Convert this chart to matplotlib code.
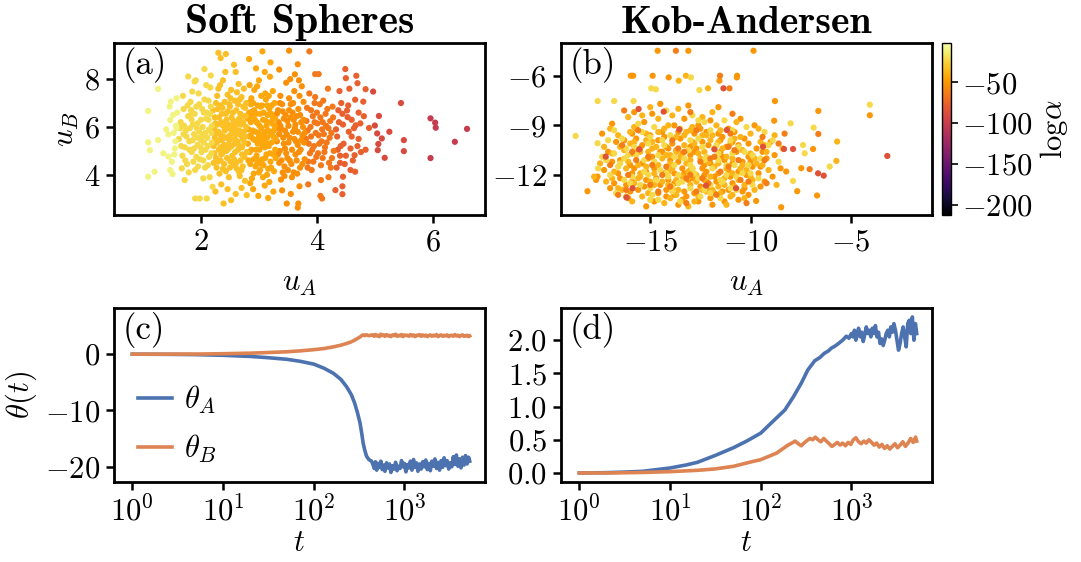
import matplotlib
matplotlib.use('Agg')
import matplotlib.pyplot as plt
import numpy as np
from matplotlib.ticker import NullLocator, FixedLocator

plt.rcParams['mathtext.fontset'] = 'cm'
plt.rcParams['font.family'] = 'serif'
plt.rcParams['font.serif'] = ['cmr10']
plt.rcParams['axes.formatter.use_mathtext'] = True
plt.rcParams['axes.unicode_minus'] = True

# ---------------- data ----------------
# Panel (a): Soft Spheres, points grouped by log(alpha) level
a_logalpha = [-10, -22, -33, -43, -53, -65, -77, -90, -102]
a_g1 = [(1.09,6.67),(1.09,5.36),(1.09,3.92),(1.26,7.59),(1.12,5.03),(1.20,4.13),(1.26,5.45),(1.48,7.06),(1.47,6.29),(1.47,4.20),
        (1.51,4.03),(1.44,4.76),(1.44,5.69),(1.52,6.50),(1.55,5.10),(1.40,5.90),(1.57,6.05),(1.50,4.55),(1.35,4.90),(1.58,7.20),
        (1.53,5.75),(1.46,6.85),(1.56,5.40),(1.59,6.60),(1.54,4.85),(1.58,5.95)]
a_g2 = [(1.67,4.27),(1.72,3.78),(1.78,8.11),(1.85,7.48),(1.89,7.90),(2.06,8.42),(2.17,8.15),(1.90,3.01),(1.98,3.01),(2.10,3.01),
        (1.62,5.50),(1.65,6.20),(1.68,4.80),(1.70,6.75),(1.72,5.15),(1.74,5.85),(1.76,4.45),(1.78,6.45),(1.80,5.40),(1.82,7.05),
        (1.84,4.95),(1.86,6.10),(1.88,5.70),(1.90,4.20),(1.92,6.85),(1.94,5.25),(1.96,7.40),(1.98,4.65),(2.00,6.30),(2.02,5.60),
        (2.04,3.85),(2.06,7.15),(2.08,5.05),(2.10,6.60),(2.12,4.40),(2.14,5.90),(2.16,7.65),(2.18,4.90),(2.19,6.05),(2.20,3.50),
        (1.64,5.95),(1.75,5.60),(1.83,6.70),(1.87,4.55),(1.93,5.95),(1.97,6.95),(2.01,4.95),(2.05,5.35),(2.09,7.75),(2.13,6.30),
        (2.15,3.90),(1.79,4.10),(1.69,7.30),(1.91,7.95),(2.03,6.00),(1.81,5.95),(1.95,5.55),(2.07,4.30),(2.11,5.55),(2.17,6.85),
        (1.66,5.20),(1.71,6.05),(1.73,4.60),(1.77,6.90),(1.80,5.05),(1.84,6.30),(1.86,5.45),(1.89,6.55),(1.92,4.75),(1.94,6.15),
        (1.97,5.80),(1.99,5.15),(2.02,6.75),(2.04,4.60),(2.07,5.75),(2.09,6.35),(2.12,5.20),(2.14,4.75),(2.16,6.55),(2.19,5.35),
        (1.70,5.70),(1.88,5.10),(2.00,5.45),(2.13,7.10),(1.95,4.35),(1.82,6.50),(2.18,5.75),(2.05,6.60)]
a_g3 = [(2.30,9.10),(2.43,9.05),(2.34,8.88),(2.39,2.80),(2.52,2.94),(2.79,3.15),(2.25,3.30),(2.60,3.20),(2.70,3.45),(2.35,3.60),
        (2.22,5.20),(2.24,6.40),(2.26,4.70),(2.28,7.30),(2.30,5.80),(2.32,4.05),(2.34,6.90),(2.36,5.45),(2.38,7.95),(2.40,4.45),
        (2.42,6.15),(2.44,5.00),(2.46,6.65),(2.48,3.90),(2.50,5.65),(2.52,7.55),(2.54,4.80),(2.56,6.25),(2.58,5.30),(2.60,8.30),
        (2.62,4.25),(2.64,6.95),(2.66,5.85),(2.68,4.60),(2.70,7.25),(2.72,5.50),(2.74,6.45),(2.76,3.75),(2.78,6.00),(2.23,5.90),
        (2.27,4.30),(2.29,6.75),(2.31,5.05),(2.33,7.75),(2.35,6.20),(2.37,4.90),(2.39,5.60),(2.41,7.05),(2.43,4.15),(2.45,5.95),
        (2.47,5.25),(2.49,6.95),(2.51,4.55),(2.53,6.40),(2.55,5.75),(2.57,8.60),(2.59,4.95),(2.61,6.70),(2.63,5.40),(2.65,7.80),
        (2.67,3.95),(2.69,6.10),(2.71,5.15),(2.73,6.85),(2.75,4.75),(2.77,5.60),(2.24,5.55),(2.28,6.10),(2.32,5.45),(2.36,6.55),
        (2.40,5.25),(2.44,6.30),(2.48,5.10),(2.52,5.90),(2.56,4.40),(2.60,6.05),(2.64,5.05),(2.68,6.55),(2.72,4.35),(2.76,6.80),
        (2.26,7.00),(2.34,4.60),(2.42,8.30),(2.50,6.85),(2.58,7.10),(2.66,4.10),(2.74,7.60),(2.46,3.40),(2.62,5.70),(2.38,6.05),
        (2.21,6.70),(2.23,4.90),(2.25,6.15),(2.27,5.35),(2.29,4.55),(2.31,6.40),(2.33,5.70),(2.35,4.85),(2.37,6.80),(2.39,5.05),
        (2.41,5.85),(2.43,6.55),(2.45,4.70),(2.47,6.10),(2.49,5.45),(2.51,7.20),(2.53,5.20),(2.55,6.60),(2.57,4.65),(2.59,5.95),
        (2.61,4.50),(2.63,6.25),(2.65,5.25),(2.67,7.15),(2.69,5.65),(2.71,4.85),(2.73,6.20),(2.75,5.35),(2.77,6.45),(2.79,4.95),
        (2.22,4.50),(2.30,7.60),(2.38,4.25),(2.46,7.35),(2.54,6.05),(2.62,7.45),(2.70,4.20),(2.78,7.00),(2.26,5.75),(2.44,5.55),
        (2.58,5.50),(2.66,6.35),(2.34,5.15),(2.50,4.30),(2.74,5.80)]
a_g4 = [(2.83,8.84),(3.06,9.16),(2.99,3.12),(3.16,3.03),(2.90,3.40),(3.10,3.55),(3.25,3.30),(2.85,3.65),(3.20,8.70),(2.95,8.45),
        (2.81,5.30),(2.83,6.60),(2.85,4.45),(2.87,7.20),(2.89,5.85),(2.91,4.05),(2.93,6.30),(2.95,5.05),(2.97,7.70),(2.99,4.60),
        (3.01,6.05),(3.03,5.45),(3.05,6.90),(3.07,3.90),(3.09,5.75),(3.11,7.40),(3.13,4.85),(3.15,6.50),(3.17,5.20),(3.19,8.10),
        (3.21,4.30),(3.23,6.15),(3.25,5.60),(3.27,7.00),(3.29,4.70),(2.82,5.90),(2.84,4.95),(2.86,6.95),(2.88,3.85),(2.90,5.50),
        (2.92,7.55),(2.94,4.35),(2.96,6.20),(2.98,5.30),(3.00,7.95),(3.02,4.20),(3.04,5.95),(3.06,4.65),(3.08,6.60),(3.10,5.15),
        (3.12,7.15),(3.14,4.00),(3.16,5.85),(3.18,6.75),(3.20,4.55),(3.22,5.35),(3.24,7.50),(3.26,4.15),(3.28,6.35),(2.86,5.65),
        (2.94,5.80),(3.02,6.55),(3.08,4.40),(3.14,5.55),(3.22,6.90),(3.28,5.05),(2.88,6.45),(2.96,4.80),(3.04,7.30),(3.12,6.25),
        (3.18,3.70),(3.26,5.85),(2.92,6.70),(3.00,5.60),(3.10,8.30),(3.20,5.70),(2.84,7.75),(3.16,4.25),(3.06,5.25),(2.98,6.15),
        (2.81,6.35),(2.83,5.60),(2.85,7.05),(2.87,5.05),(2.89,6.65),(2.91,4.65),(2.93,5.45),(2.95,6.55),(2.97,4.45),(2.99,5.75),
        (3.01,5.05),(3.03,6.85),(3.05,4.45),(3.07,6.30),(3.09,5.45),(3.11,4.70),(3.13,6.05),(3.15,5.30),(3.17,7.30),(3.19,4.90),
        (3.21,6.55),(3.23,5.80),(3.25,4.85),(3.27,6.05),(3.29,5.50),(2.82,4.60),(2.90,7.00),(2.98,6.90),(3.06,5.60),(3.14,6.90),
        (3.24,6.40),(2.86,6.20),(3.00,4.10),(3.12,5.80),(3.20,6.20)]
a_g5 = [(3.52,9.19),(3.67,8.62),(3.68,2.80),(3.67,2.63),(3.48,2.80),(3.70,3.52),(3.40,3.35),(3.55,3.20),(3.35,8.40),(3.62,8.20),
        (3.31,5.40),(3.33,6.70),(3.35,4.50),(3.37,7.30),(3.39,5.90),(3.41,4.10),(3.43,6.35),(3.45,5.10),(3.47,7.85),(3.49,4.70),
        (3.51,6.05),(3.53,5.55),(3.55,6.95),(3.57,3.90),(3.59,5.80),(3.61,7.50),(3.63,4.85),(3.65,6.45),(3.67,5.25),(3.69,7.95),
        (3.71,4.30),(3.73,6.20),(3.75,5.65),(3.77,7.05),(3.79,4.65),(3.32,5.95),(3.36,5.00),(3.40,6.95),(3.44,4.35),(3.48,5.70),
        (3.52,7.20),(3.56,4.45),(3.60,6.30),(3.64,5.40),(3.68,6.75),(3.72,5.05),(3.76,6.00),(3.34,6.20),(3.42,5.55),(3.50,4.20),
        (3.58,6.60),(3.66,4.05),(3.74,7.70),(3.46,6.50),(3.62,5.95),(3.38,3.80),(3.54,8.00),(3.78,5.35),
        (3.31,6.55),(3.33,4.85),(3.35,5.70),(3.37,6.05),(3.39,4.60),(3.41,6.65),(3.43,5.30),(3.45,5.85),(3.47,4.90),(3.49,6.25),
        (3.51,5.35),(3.53,4.60),(3.55,6.40),(3.57,5.05),(3.59,7.00),(3.61,5.50),(3.63,6.10),(3.65,4.60),(3.67,5.80),(3.69,4.95),
        (3.71,6.50),(3.73,5.45),(3.75,4.45),(3.77,6.30),(3.79,5.75),(3.36,7.00),(3.44,3.95),(3.60,4.10),(3.70,7.30),(3.52,6.70)]
a_g6 = [(4.03,8.21),(3.97,8.21),(3.87,9.16),(4.07,3.78),(4.09,3.01),(4.06,3.12),(3.85,3.60),(4.20,3.90),
        (3.81,5.50),(3.83,6.80),(3.85,4.55),(3.87,7.40),(3.89,6.00),(3.91,4.20),(3.93,6.45),(3.95,5.20),(3.97,7.25),(3.99,4.75),
        (4.01,6.15),(4.03,5.65),(4.05,6.95),(4.07,4.40),(4.09,5.90),(4.11,7.10),(4.13,4.95),(4.15,6.55),(4.17,5.35),(4.19,7.60),
        (4.21,4.50),(4.23,6.25),(4.25,5.75),(4.27,6.85),(4.29,5.00),(3.84,5.85),(3.92,5.05),(4.00,6.60),(4.08,5.40),(4.16,6.05),
        (4.24,4.30),(3.88,4.90),(3.96,6.20),(4.12,5.70),(4.28,6.40),
        (3.82,6.25),(3.86,5.30),(3.90,6.70),(3.94,4.55),(3.98,5.75),(4.02,4.90),(4.06,6.40),(4.10,4.70),(4.14,5.15),(4.18,6.75),
        (4.22,5.55),(4.26,4.70),(3.84,4.30),(3.96,7.00),(4.04,5.30),(4.20,5.95),(3.90,5.60),(4.10,6.20)]
a_g7 = [(4.49,8.42),(4.50,8.04),(4.52,6.69),(4.53,6.41),(4.67,6.07),(4.65,4.82),(4.66,4.13),(4.45,3.92),(4.44,3.52),(4.44,3.19),
        (4.32,3.36),(4.68,8.14),(4.70,7.83),(4.66,7.14),(4.84,5.05),(4.84,7.58),(4.80,7.06),(4.81,6.45),(4.90,5.96),
        (4.35,5.60),(4.38,6.20),(4.40,4.80),(4.42,7.00),(4.46,5.30),(4.48,4.45),(4.55,5.80),(4.58,5.10),(4.60,6.30),(4.62,4.60),
        (4.72,5.50),(4.75,6.15),(4.34,4.30),(4.39,7.50),(4.56,7.60),(4.70,5.20),(4.76,4.95),(4.44,6.55),(4.58,4.20),(4.36,5.05),
        (4.33,5.90),(4.37,6.70),(4.41,5.20),(4.45,6.10),(4.50,4.80),(4.54,6.90),(4.60,5.60),(4.64,5.95),(4.72,6.60),(4.40,4.50)]
a_g8 = [(4.97,7.48),(5.00,6.06),(5.07,6.46),(5.04,5.73),(5.06,5.29),(5.05,5.03),(5.12,5.52),(5.25,5.80),(5.17,4.71),(5.45,7.00),
        (5.50,5.45),(5.50,4.99)]
a_g9 = [(5.96,6.36),(6.04,6.18),(6.05,5.97),(5.96,4.70),(6.38,5.38),(6.59,5.92)]
a_groups = [a_g9, a_g8, a_g7, a_g6, a_g5, a_g4, a_g3, a_g2, a_g1]
a_group_levels = [a_logalpha[8], a_logalpha[7], a_logalpha[6], a_logalpha[5], a_logalpha[4],
                  a_logalpha[3], a_logalpha[2], a_logalpha[1], a_logalpha[0]]

# Panel (b): Kob-Andersen, points grouped by log(alpha) level
b_logalpha = [-50, -38, -22, -62, -85]
b_orange = [(-18.13,-12.98),(-14.63,-4.49),(-13.10,-4.49),(-9.85,-4.49),(-15.97,-6.0),(-15.85,-6.0),(-14.88,-6.0),(-14.08,-6.1),
            (-11.55,-6.3),(-10.67,-6.0),(-10.68,-6.1),(-8.78,-7.53),(-4.05,-8.39),(-6.62,-8.13),(-6.68,-13.24),(-6.88,-10.43),
            (-7.47,-11.59),(-7.67,-12.98),(-8.47,-13.95),(-8.22,-11.79),(-8.82,-8.72),(-9.72,-13.57),(-17.63,-12.10),
            (-14.5,-7.7),(-13.1,-7.8),(-11.6,-7.9),(-15.8,-8.2),(-14.9,-8.3),(-13.3,-8.6),(-12.0,-8.7),(-10.5,-8.6),(-16.9,-8.9),
            (-15.3,-8.8),(-13.8,-9.0),(-12.5,-9.2),(-11.1,-9.2),(-9.8,-9.0),(-17.4,-9.5),(-15.9,-9.5),(-14.4,-9.4),(-12.8,-9.5),
            (-11.4,-9.7),(-10.3,-9.8),(-9.0,-10.0),(-16.7,-10.0),(-15.4,-10.2),(-13.9,-10.1),(-12.4,-10.0),(-11.2,-10.3),(-9.7,-10.4),
            (-17.1,-10.6),(-15.9,-10.7),(-14.4,-10.6),(-13.0,-10.8),(-11.5,-10.6),(-10.1,-10.9),(-8.8,-10.8),(-16.5,-11.1),(-15.1,-11.0),
            (-13.6,-11.2),(-12.3,-11.4),(-10.9,-11.3),(-9.5,-11.5),(-17.3,-11.7),(-15.8,-11.6),(-14.3,-11.9),(-13.0,-11.7),(-11.6,-11.9),
            (-10.2,-12.0),(-8.9,-12.1),(-16.5,-12.2),(-15.2,-12.3),(-13.8,-12.5),(-12.3,-12.3),(-10.9,-12.5),(-9.5,-12.7),(-17.0,-12.8),
            (-15.6,-12.9),(-14.2,-12.9),(-12.8,-13.1),(-11.4,-13.0),(-10.1,-13.2),(-16.1,-13.4),(-14.8,-13.6),(-13.4,-13.5),(-12.0,-13.4),
            (-10.6,-13.5),(-15.2,-13.9),(-13.6,-13.8),(-11.9,-13.8),(-14.1,-10.4),(-12.7,-10.4),(-13.4,-11.6),(-11.8,-12.1),(-14.7,-12.2),
            (-12.1,-12.8),(-14.0,-11.1),(-10.6,-10.2),(-16.0,-11.4),(-12.9,-12.2),(-15.5,-10.4),(-11.1,-11.7),(-13.3,-13.0),(-16.8,-12.5),
            (-9.3,-12.4),(-12.6,-9.0),(-14.2,-13.3),(-10.4,-11.2),(-15.7,-9.8),(-13.7,-10.5),(-8.5,-11.6),(-17.7,-12.3),(-14.6,-9.9),
            (-12.2,-11.8),(-11.3,-13.6),
            (-16.3,-9.9),(-15.6,-10.5),(-14.9,-10.9),(-14.2,-10.3),(-13.5,-9.8),(-12.8,-10.6),(-12.1,-10.2),(-11.4,-10.9),(-10.7,-10.6),
            (-10.0,-11.2),(-16.6,-11.9),(-15.9,-12.4),(-15.2,-11.8),(-14.5,-12.6),(-13.8,-11.9),(-13.1,-12.3),(-12.4,-11.6),(-11.7,-12.4),
            (-11.0,-12.1),(-10.3,-12.8),(-9.6,-11.9),(-16.0,-13.0),(-15.3,-12.7),(-14.6,-13.1),(-13.9,-12.8),(-13.2,-13.3),(-12.5,-12.7),
            (-11.8,-13.1),(-11.1,-12.9),(-10.4,-13.0),(-15.7,-9.2),(-15.0,-9.6),(-14.3,-9.7),(-13.6,-9.4),(-12.9,-10.0),(-12.2,-9.4),
            (-11.5,-9.9),(-10.8,-9.4),(-10.1,-10.1),(-9.4,-10.6),(-16.9,-11.2),(-14.8,-11.6),(-13.3,-11.9),(-12.0,-11.3),(-10.6,-11.8),
            (-9.2,-11.0),(-15.4,-11.3),(-13.0,-10.3),(-11.3,-11.1),(-14.1,-12.3),(-12.6,-13.6),(-15.9,-11.9),(-10.9,-10.0),(-13.8,-13.2),
            (-16.2,-12.6),(-11.6,-9.5),(-14.5,-10.6),(-12.3,-12.0),(-9.9,-11.5),(-13.4,-10.7)]
b_light = [(-13.58,-6.3),(-13.22,-6.0),(-12.12,-6.76),(-5.68,-9.98),(-5.72,-11.15),
           (-15.0,-7.9),(-13.6,-8.0),(-11.9,-8.2),(-16.1,-8.5),(-14.6,-8.6),(-12.4,-8.5),(-10.7,-8.8),(-17.0,-9.2),(-15.8,-9.1),
           (-14.1,-9.0),(-12.9,-9.1),(-11.5,-9.3),(-10.0,-9.5),(-8.8,-9.6),(-16.6,-9.6),(-15.2,-9.5),(-13.7,-9.7),(-12.2,-9.6),
           (-10.8,-9.8),(-9.5,-10.0),(-17.3,-10.3),(-16.0,-10.1),(-14.7,-10.3),(-13.3,-10.2),(-11.8,-10.4),(-10.4,-10.5),(-9.2,-10.6),
           (-16.9,-10.7),(-15.5,-10.6),(-14.0,-10.8),(-12.6,-10.7),(-11.2,-10.9),(-9.8,-11.0),(-17.5,-11.3),(-16.1,-11.2),(-14.6,-11.4),
           (-13.2,-11.3),(-11.8,-11.5),(-10.5,-11.6),(-9.1,-11.7),(-16.8,-11.8),(-15.5,-11.9),(-14.1,-11.8),(-12.7,-12.0),(-11.3,-12.2),
           (-9.9,-12.3),(-17.2,-12.4),(-15.8,-12.5),(-14.4,-12.4),(-13.0,-12.6),(-11.6,-12.7),(-10.3,-12.6),(-16.4,-12.9),(-15.1,-13.1),
           (-13.7,-13.2),(-12.2,-13.0),(-10.9,-13.2),(-15.9,-13.6),(-14.3,-13.7),(-12.8,-13.6),(-11.2,-13.8),(-13.9,-8.4),(-12.0,-9.9),
           (-14.9,-10.0),(-13.5,-10.9),(-12.1,-11.2),(-15.2,-11.5),(-10.9,-11.9),(-13.7,-12.3),(-12.4,-12.9),(-14.8,-12.6),(-11.0,-10.1),
           (-16.3,-10.5),(-10.0,-12.1),(-13.2,-9.4),(-15.6,-12.2),(-9.4,-11.4),(-12.9,-11.6),(-14.3,-9.2),(-11.6,-10.0),(-17.8,-12.1),
           (-16.2,-13.3),(-8.4,-10.4),(-8.7,-12.6),(-9.6,-9.2),(-13.1,-13.9),(-11.7,-9.0),(-15.4,-8.4),
           (-16.5,-10.3),(-15.8,-10.0),(-15.1,-10.6),(-14.4,-11.0),(-13.7,-10.6),(-13.0,-11.1),(-12.3,-10.6),(-11.6,-11.3),(-10.9,-11.0),
           (-10.2,-11.7),(-16.2,-11.6),(-15.5,-12.1),(-14.8,-11.9),(-14.1,-12.6),(-13.4,-12.1),(-12.7,-12.4),(-12.0,-12.1),(-11.3,-12.6),
           (-10.6,-12.3),(-9.8,-12.9),(-15.4,-13.3),(-14.0,-13.4),(-12.6,-13.3),(-11.5,-13.1),(-10.3,-13.4),(-16.0,-9.4),(-14.6,-9.4),
           (-13.3,-9.6),(-11.9,-9.6),(-10.5,-9.7),(-9.3,-10.2),(-16.9,-12.2),(-13.9,-11.6),(-12.5,-11.0),(-11.2,-11.6),(-9.7,-11.3),
           (-15.0,-12.4),(-13.6,-12.9),(-12.2,-12.4),(-10.8,-12.7),(-15.6,-11.4),(-14.2,-10.8),(-12.8,-10.1),(-11.4,-10.4),(-10.0,-10.7),
           (-16.6,-12.8),(-14.9,-10.4),(-13.1,-11.8),(-11.9,-12.9),(-10.4,-11.4),(-15.2,-9.9),(-12.4,-9.6),(-14.0,-11.3),(-11.0,-13.3),
           (-13.0,-9.3)]
b_yellow = [(-18.72,-9.64),(-17.63,-10.08),(-17.62,-7.53),(-16.80,-7.53),(-15.83,-7.53),(-12.97,-6.1),(-12.55,-6.87),
            (-14.95,-6.76),(-14.72,-6.82),(-4.05,-7.75),(-6.85,-9.14),(-6.05,-11.49),(-7.38,-10.19),(-7.30,-10.69),(-7.88,-12.36),
            (-8.00,-8.88),
            (-14.2,-8.1),(-12.9,-8.4),(-15.6,-8.9),(-11.3,-8.7),(-16.8,-9.3),(-13.5,-9.2),(-10.2,-9.1),(-9.3,-9.4),(-17.1,-9.9),
            (-15.0,-9.7),(-12.6,-9.8),(-11.0,-9.9),(-14.3,-10.2),(-16.2,-10.4),(-13.1,-10.5),(-10.6,-10.3),(-9.1,-10.2),(-17.4,-10.9),
            (-15.7,-10.8),(-12.2,-10.9),(-14.8,-11.2),(-11.6,-11.1),(-13.8,-11.4),(-16.6,-11.5),(-10.1,-11.4),(-8.6,-11.2),(-15.3,-11.8),
            (-12.8,-11.9),(-17.0,-12.0),(-14.1,-12.1),(-11.2,-12.0),(-9.6,-12.2),(-13.4,-12.4),(-16.0,-12.5),(-12.0,-12.6),(-15.0,-12.8),
            (-10.7,-12.9),(-13.9,-13.0),(-16.7,-13.1),(-12.5,-13.3),(-14.6,-13.5),(-11.5,-13.4),(-15.4,-9.4),(-12.0,-9.3),(-13.3,-11.0),
            (-14.5,-11.7),(-11.9,-11.6),(-15.9,-12.1),(-10.4,-11.9),(-13.0,-12.8),(-9.9,-10.8),(-16.4,-9.8),(-14.0,-9.6),(-12.4,-10.3),
            (-10.9,-10.7),(-15.1,-10.1),(-13.6,-12.0),(-11.4,-12.4),(-14.9,-13.2),(-12.3,-8.8),(-8.9,-9.9),(-17.6,-11.6),(-16.3,-11.0),
            (-16.1,-10.8),(-15.3,-11.1),(-14.6,-10.8),(-13.8,-10.9),(-13.0,-11.4),(-12.3,-11.1),(-11.6,-10.7),(-10.8,-11.4),(-10.0,-11.9),
            (-16.3,-12.3),(-15.5,-12.6),(-14.7,-12.3),(-13.9,-12.7),(-13.1,-12.1),(-12.3,-12.9),(-11.5,-12.3),(-10.7,-12.1),(-9.9,-12.6),
            (-15.8,-10.3),(-14.4,-9.9),(-13.0,-9.9),(-11.7,-10.2),(-10.3,-10.6),(-15.0,-13.5),(-13.5,-13.6),(-12.0,-13.1),(-16.8,-10.7),
            (-14.2,-11.9),(-12.9,-11.6),(-11.2,-11.4),(-9.5,-11.0),(-16.5,-11.3),(-15.1,-12.0),(-13.6,-12.5),(-12.6,-12.2),(-11.0,-12.8),
            (-14.8,-9.1),(-12.6,-8.7),(-10.9,-9.3),(-17.2,-11.1)]
b_dark = [(-13.72,-4.49),(-11.52,-6.0),(-11.05,-6.76),(-6.62,-9.52),(-7.05,-11.65),
          (-16.3,-8.1),(-13.0,-8.2),(-10.9,-8.3),(-15.6,-9.3),(-12.7,-9.3),(-9.4,-9.7),(-16.4,-10.2),(-13.6,-10.4),(-10.8,-10.5),
          (-8.6,-10.1),(-15.1,-10.9),(-12.0,-11.0),(-9.3,-11.1),(-17.0,-11.4),(-14.2,-11.5),(-11.1,-11.5),(-16.1,-12.0),(-13.2,-12.2),
          (-10.5,-12.3),(-15.0,-12.6),(-12.1,-12.5),(-9.2,-12.5),(-14.6,-13.0),(-11.7,-13.2),(-13.2,-13.7),(-10.2,-13.7),(-16.6,-13.2),
          (-12.5,-11.2),(-14.0,-12.7),(-8.3,-9.5),(-11.0,-9.5),
          (-15.7,-11.1),(-14.4,-12.0),(-13.3,-10.6),(-12.4,-12.2),(-11.5,-11.8),(-10.6,-11.1),(-16.2,-12.9),(-13.9,-9.9),(-12.7,-13.0),
          (-11.1,-10.3),(-14.9,-11.4),(-10.1,-12.4),(-15.9,-10.6),(-13.0,-12.0),(-11.8,-10.9)]
b_red = [(-11.35,-6.76),(-6.35,-12.04),(-6.63,-11.90),(-3.18,-10.85),(-15.58,-8.01),(-14.33,-8.17),(-13.55,-9.24),(-11.18,-9.28),
         (-15.55,-10.45),(-17.22,-10.89),(-11.80,-10.45),(-12.22,-12.64),(-15.88,-12.80),(-16.18,-13.36),(-10.72,-12.80),
         (-9.38,-10.29),(-8.33,-10.43),(-7.88,-10.43)]
b_groups = [b_orange, b_light, b_yellow, b_dark, b_red]

# Panel (c): Soft Spheres, rows of (t, theta_A, theta_B)
c_series = [(1,0,0),(2,-0.02,0.0),(3,-0.04,0.01),(5,-0.08,0.02),(10,-0.2,0.08),(20,-0.4,0.18),(30,-0.6,0.28),(50,-0.9,0.42),
            (70,-1.25,0.58),(100,-1.76,0.8),(130,-2.5,1.0),(165,-3.4,1.3),(200,-4.5,1.6),(231,-5.8,1.9),(260,-7.2,2.2),
            (283,-8.7,2.5),(305,-10.5,2.8),(324,-12.2,3.05),(338,-14.0,3.3),(351,-15.8,3.42),(365,-17.0,3.3),(382,-18.1,3.44),
            (405,-18.7,3.28),(434,-19.0,3.4),
            (450,-19.6,3.42),(465,-20.3,3.18),(480,-19.1,3.48),(495,-20.6,3.24),(510,-19.4,3.36),(530,-20.1,3.12),(550,-19.0,3.54),
            (570,-20.5,3.30),(590,-19.7,3.42),(610,-20.8,3.18),(635,-19.3,3.48),(660,-20.2,3.24),(685,-19.5,3.36),(710,-21.0,3.12),
            (740,-19.8,3.42),(770,-20.4,3.30),(800,-19.2,3.54),(830,-20.7,3.18),(860,-19.9,3.36),(895,-20.3,3.24),(930,-18.9,3.48),
            (965,-20.0,3.12),(1000,-19.4,3.42),(1040,-20.9,3.30),(1080,-19.6,3.36),(1120,-20.2,3.18),(1165,-19.0,3.48),(1210,-20.6,3.24),
            (1260,-18.7,3.42),(1310,-20.1,3.12),(1360,-19.3,3.36),(1410,-20.8,3.30),(1470,-19.5,3.48),(1530,-20.4,3.18),(1590,-19.1,3.42),
            (1650,-20.0,3.24),(1720,-18.8,3.36),(1790,-20.5,3.12),(1860,-19.4,3.30),(1930,-20.7,3.42),(2010,-19.0,3.18),(2090,-19.9,3.36),
            (2170,-18.6,3.24),(2260,-20.3,3.48),(2350,-19.2,3.12),(2440,-20.6,3.30),(2540,-18.9,3.42),(2640,-20.1,3.18),(2740,-18.4,3.36),
            (2850,-19.8,3.24),(2960,-18.9,3.42),(3080,-20.4,3.12),(3200,-19.3,3.30),(3330,-20.0,3.36),(3460,-18.2,3.18),(3600,-19.6,3.48),
            (3740,-17.9,3.24),(3890,-19.9,3.36),(4040,-18.6,3.12),(4200,-20.2,3.30),(4370,-18.3,3.42),(4540,-19.7,3.18),(4720,-18.0,3.24),
            (4910,-19.5,3.36),(5100,-18.3,3.12),(5250,-19.0,3.24)]

# Panel (d): Kob-Andersen, (t, theta)
d_thetaA = [(1,0.0),(2,0.005),(3,0.012),(5,0.025),(10,0.075),(15,0.12),(20,0.16),(31,0.26),(50,0.38),(70,0.48),(100,0.6),
            (130,0.75),(185,0.95),(230,1.15),(282,1.36),(330,1.55),(394,1.69),(450,1.74),(500,1.8),(560,1.84),(600,1.88),
            (657,1.91),(720,1.95),(800,2.0),(880,2.06),(940,2.03),
            (1000,2.1),(1040,2.05),(1080,2.15),(1120,2.0),(1160,2.1),(1200,2.18),(1250,2.05),(1300,2.12),(1350,1.98),(1400,2.08),
            (1460,2.2),(1520,2.1),(1580,2.15),(1640,2.05),(1700,2.18),(1770,2.1),(1840,2.22),(1910,2.05),(1990,2.12),(2070,1.95),
            (2150,2.02),(2240,1.92),(2330,2.0),(2420,2.1),(2520,2.15),(2620,2.05),(2720,2.2),(2830,2.12),(2940,2.25),(3060,2.15),
            (3180,2.0),(3310,1.85),(3440,1.95),(3580,2.1),(3720,2.2),(3870,2.05),(4020,1.9),(4180,2.25),(4350,2.3),(4520,2.1),
            (4700,2.35),(4890,2.0),(5080,2.25),(5250,2.1)]
d_thetaB = [(1,0.0),(2,0.0),(3,0.003),(5,0.008),(10,0.02),(20,0.04),(31,0.06),(50,0.1),(80,0.17),(100,0.2),(150,0.3),(200,0.42),
            (220,0.45),(240,0.48),(260,0.44),(280,0.41),(300,0.45),(325,0.49),(350,0.52),(375,0.50),(400,0.54),(430,0.50),
            (460,0.47),(495,0.52),(530,0.48),(570,0.44),(610,0.40),(655,0.43),(700,0.46),(750,0.42),(800,0.45),(860,0.41),
            (920,0.46),(985,0.43),(1050,0.50),(1120,0.53),(1200,0.47),(1280,0.44),(1370,0.48),(1460,0.45),(1560,0.50),(1670,0.46),
            (1780,0.42),(1900,0.45),(2030,0.39),(2170,0.43),(2320,0.37),(2480,0.41),(2650,0.36),(2830,0.40),(3020,0.44),(3230,0.38),
            (3450,0.42),(3690,0.47),(3940,0.40),(4210,0.45),(4500,0.52),(4800,0.46),(5100,0.54),(5250,0.48)]

titles = ['Soft Spheres', 'Kob-Andersen']
title_sizes = [30, 28.5]
panel_labels = ['(a)', '(b)', '(c)', '(d)']
cbar_ticks = [-50, -100, -150, -200]
vmin, vmax = -212, -2

# ---------------- figure ----------------
W, H = 1081, 562
fig = plt.figure(figsize=(W/100, H/100), dpi=100)

def rect(l, t, r, b):
    return [l/W, 1-b/H, (r-l)/W, (b-t)/H]

ax_a = fig.add_axes(rect(114, 43, 485, 215))
ax_b = fig.add_axes(rect(561, 43, 932, 215))
cax = fig.add_axes(rect(942, 43, 951, 215))
ax_c = fig.add_axes(rect(114, 308, 485, 482))
ax_d = fig.add_axes(rect(561, 308, 932, 482))

FS = 22
blue = '#4C72B0'
orange = '#DD8452'

def style(ax):
    for s in ax.spines.values():
        s.set_linewidth(2.0)
    ax.tick_params(direction='out', length=6, width=1.8, labelsize=FS, pad=4)

cmap = plt.get_cmap('inferno')
sc = None
MS = 20
# (a)
for pts, lev in zip(a_groups, a_group_levels):
    arr = np.array(pts)
    sc = ax_a.scatter(arr[:, 0], arr[:, 1], c=np.full(len(arr), lev), cmap=cmap, vmin=vmin, vmax=vmax,
                      s=MS, linewidths=0)
ax_a.set_xlim(0.5, 6.9)
ax_a.set_ylim(2.32, 9.51)
ax_a.set_xticks([2, 4, 6])
ax_a.set_yticks([4, 6, 8])
ax_a.set_xlabel(r'$u_A$', fontsize=FS, labelpad=10)
ax_a.set_ylabel(r'$u_B$', fontsize=FS, labelpad=2)

# (b)
for pts, lev in zip(b_groups, b_logalpha):
    arr = np.array(pts)
    ax_b.scatter(arr[:, 0], arr[:, 1], c=np.full(len(arr), lev), cmap=cmap, vmin=vmin, vmax=vmax,
                 s=MS, linewidths=0)
ax_b.set_xlim(-19.45, -0.95)
ax_b.set_ylim(-14.42, -4.02)
ax_b.set_xticks([-15, -10, -5])
ax_b.set_yticks([-12, -9, -6])
ax_b.set_xlabel(r'$u_A$', fontsize=FS, labelpad=10)

for ax, ttl, tsz in zip([ax_a, ax_b], titles, title_sizes):
    ax.set_title(ttl, fontsize=tsz, fontfamily='cmb10', pad=7)

# colorbar
cb = fig.colorbar(sc, cax=cax)
cb.set_ticks(cbar_ticks)
cb.outline.set_linewidth(1.0)
cax.tick_params(direction='out', length=5, width=1.2, labelsize=FS, pad=3)
cb.set_label(r'$\mathrm{log}\alpha$', fontsize=FS, labelpad=4)

# (c)
c_arr = np.array(c_series)
ax_c.plot(c_arr[:, 0], c_arr[:, 1], color=blue, lw=2.6, label=r'$\theta_A$')
ax_c.plot(c_arr[:, 0], c_arr[:, 2], color=orange, lw=2.6, label=r'$\theta_B$')
ax_c.set_ylim(-22.7, 8.2)
ax_c.set_yticks([-20, -10, 0])
ax_c.set_ylabel(r'$\theta(t)$', fontsize=FS)
leg = ax_c.legend(loc='center left', bbox_to_anchor=(0.0, 0.33), frameon=False, fontsize=FS,
                  handlelength=1.1, handletextpad=0.4, labelspacing=0.55, borderaxespad=0.4)
for line in leg.get_lines():
    line.set_linewidth(2.6)

# (d)
dA = np.array(d_thetaA)
dB = np.array(d_thetaB)
ax_d.plot(dA[:, 0], dA[:, 1], color=blue, lw=2.6)
ax_d.plot(dB[:, 0], dB[:, 1], color=orange, lw=2.6)
ax_d.set_ylim(-0.136, 2.485)
ax_d.set_yticks([0.0, 0.5, 1.0, 1.5, 2.0])

for ax in [ax_c, ax_d]:
    ax.set_xscale('log')
    ax.set_xlim(0.628, 7740)
    ax.xaxis.set_major_locator(FixedLocator([1, 10, 100, 1000]))
    ax.xaxis.set_minor_locator(NullLocator())
    ax.set_xlabel(r'$t$', fontsize=FS, labelpad=2)

for ax in [ax_a, ax_b, ax_c, ax_d]:
    style(ax)

for ax, lab in zip([ax_a, ax_b, ax_c, ax_d], panel_labels):
    ax.text(0.022, 0.975, lab, transform=ax.transAxes, fontsize=25, va='top', ha='left')

fig.savefig('out.png', dpi=100)
